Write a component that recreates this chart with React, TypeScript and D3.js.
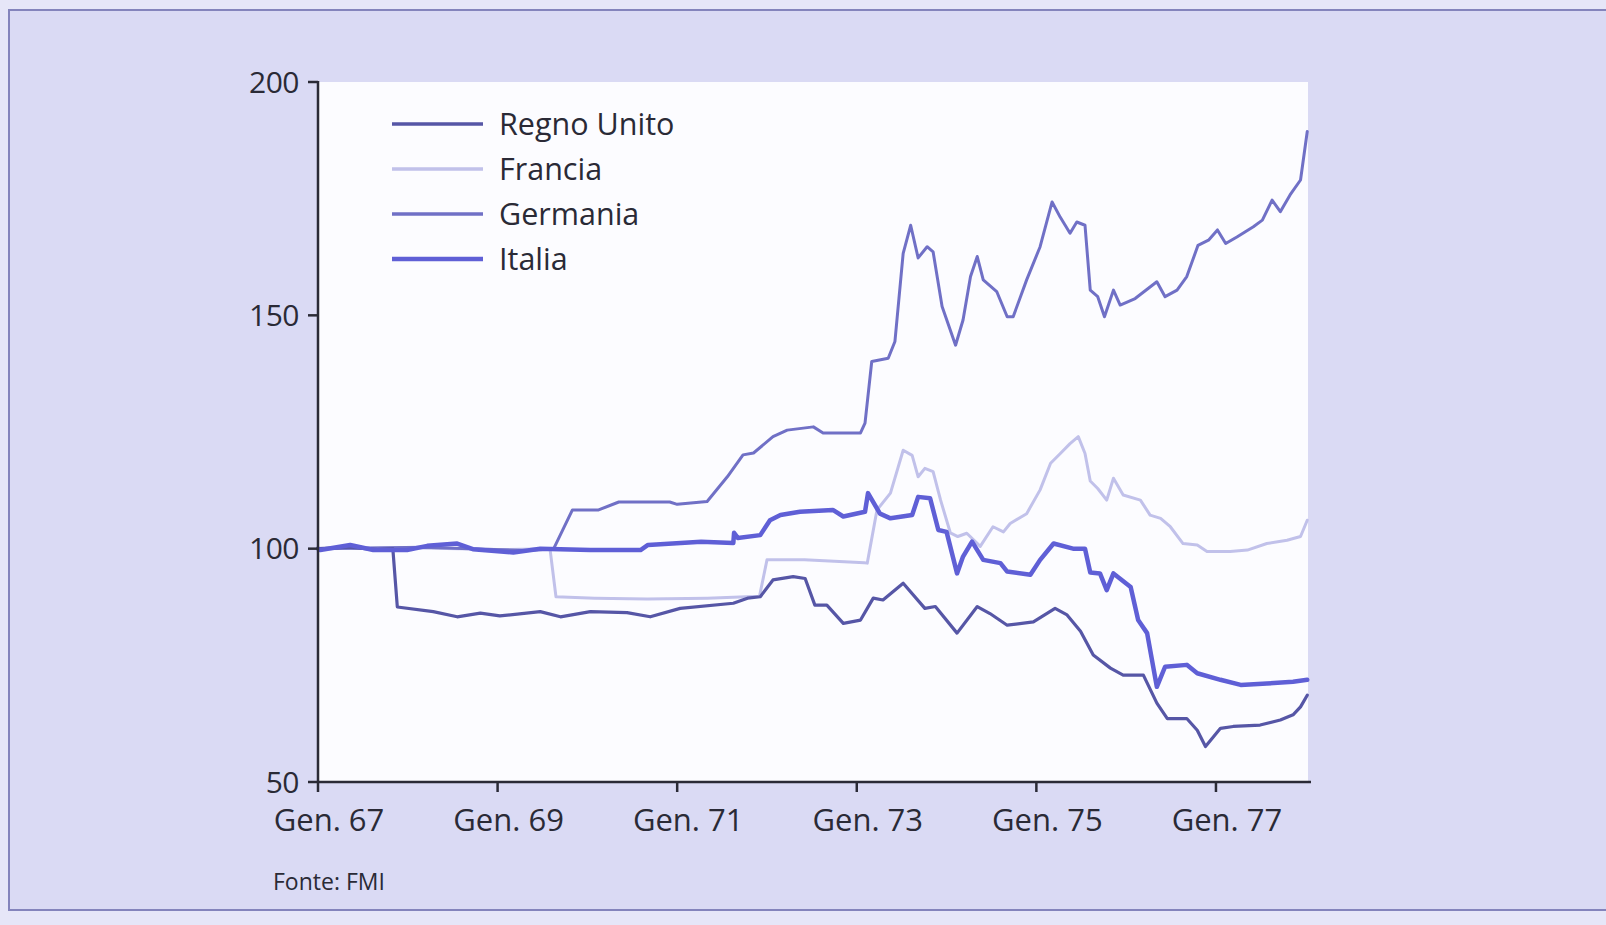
import React from 'react';
import * as d3 from 'd3';

// months since Gen. 1967, index value
const regnoUnito: [number, number][] = [
  [0, 100], [4, 100.3], [8, 99.8], [10, 100], [10.6, 87.5], [15.4, 86.5], [18.6, 85.4],
  [21.7, 86.2], [24.3, 85.6], [29.7, 86.5], [32.4, 85.4], [36.4, 86.5], [41.3, 86.3],
  [44.4, 85.4], [48.4, 87.2], [55.5, 88.3], [57.4, 89.4], [59.1, 89.7], [60.8, 93.3],
  [63.5, 94], [65.1, 93.6], [66.4, 87.9], [68, 87.9], [70.2, 84], [72.5, 84.7],
  [74.2, 89.4], [75.5, 89], [78.2, 92.6], [81.1, 87.2], [82.5, 87.6], [85.4, 81.9],
  [88.1, 87.6], [89.8, 86.1], [92.1, 83.6], [95.6, 84.3], [98.5, 87.2], [100.1, 85.8],
  [101.9, 82.3], [103.6, 77.2], [105.9, 74.4], [107.6, 72.9], [110.3, 72.9], [112.1, 66.9],
  [113.5, 63.6], [116.1, 63.6], [117.5, 61.1], [118.6, 57.6], [120.6, 61.5], [122.3, 61.9],
  [125.9, 62.2], [128.6, 63.3], [130.3, 64.4], [131.3, 66.1], [132.2, 68.6],
];

const francia: [number, number][] = [
  [0, 100], [12, 100.2], [24, 99.8], [31, 100], [31.8, 89.7], [37, 89.4], [44, 89.2],
  [52, 89.4], [59, 89.8], [60, 97.6], [65, 97.6], [73, 97], [73.4, 96.9], [74.7, 108.3],
  [76.5, 111.9], [78.2, 121.1], [79.4, 120], [80.2, 115.4], [81.1, 117.2], [82.2, 116.5],
  [83.2, 110.4], [84.5, 103.4], [85.5, 102.6], [86.7, 103.3], [88.5, 100.5], [90.2, 104.7],
  [91.6, 103.6], [92.5, 105.4], [94.7, 107.5], [96.5, 112.6], [97.9, 118.3], [99.2, 120.4],
  [100.5, 122.5], [101.6, 124], [102.5, 120.4], [103.2, 114.5], [104.2, 112.9], [105.4, 110.4],
  [106.3, 115.1], [107.6, 111.5], [109.9, 110.4], [111.2, 107.2], [112.6, 106.5], [113.9, 104.7],
  [115.6, 101.1], [117.5, 100.8], [118.8, 99.4], [121.9, 99.4], [124.2, 99.7], [126.8, 101.1],
  [129.5, 101.8], [131.3, 102.6], [132.2, 106.1],
];

const germania: [number, number][] = [
  [0, 100], [14, 100.3], [28, 99.6], [31.5, 100], [34, 108.3], [37.5, 108.3], [40.2, 110],
  [47, 110], [48, 109.5], [52, 110.1], [54.7, 115.4], [56.8, 120.1], [58.2, 120.5],
  [60.8, 124], [62.7, 125.4], [66.2, 126.1], [67.5, 124.8], [72.5, 124.8], [73.1, 126.9],
  [74, 140.1], [76.2, 140.8], [77.1, 144.4], [78.2, 163.3], [79.2, 169.3], [80.2, 162.3],
  [81.4, 164.7], [82.2, 163.6], [83.4, 151.9], [85.2, 143.6], [86.2, 149], [87.2, 158.3],
  [88.1, 162.6], [88.9, 157.6], [90.7, 155.1], [92.1, 149.7], [92.9, 149.7], [94.7, 157.6],
  [96.5, 164.7], [98.1, 174.3], [99.2, 171], [100.5, 167.6], [101.4, 170], [102.5, 169.3],
  [103.2, 155.4], [104.2, 154], [105.1, 149.7], [106.3, 155.4], [107.2, 152.2], [109.2, 153.6],
  [112.1, 157.2], [113.2, 154], [114.8, 155.4], [116.1, 158.3], [117.6, 165], [119, 166.1],
  [120.2, 168.3], [121.3, 165.4], [122.8, 166.8], [125, 169], [126.2, 170.4], [127.5, 174.7],
  [128.6, 172.2], [129.9, 175.8], [131.3, 179], [132.2, 189.4],
];

const italia: [number, number][] = [
  [0, 100], [0.3, 99.7], [4.3, 100.8], [7.4, 99.7], [11.9, 99.7], [14.6, 100.6], [18.6, 101.1],
  [20.7, 99.9], [26.1, 99.2], [29.7, 100], [36.4, 99.7], [43.1, 99.7], [44.1, 100.8],
  [51.2, 101.5], [55.5, 101.2], [55.6, 103.4], [56.1, 102.3], [59.1, 102.9], [60.4, 106.1],
  [61.8, 107.2], [64.4, 107.9], [68.8, 108.3], [70.2, 106.9], [73.1, 107.9], [73.5, 111.9],
  [75.1, 107.5], [76.5, 106.5], [79.4, 107.2], [80.2, 111.1], [81.8, 110.8], [82.9, 104],
  [84, 103.6], [85.4, 94.7], [86.2, 98.3], [87.4, 101.5], [88.9, 97.6], [91.2, 96.9],
  [92.1, 95.1], [95.2, 94.4], [96.5, 97.6], [98.3, 101.1], [100.9, 100], [102.5, 100],
  [103.2, 94.9], [104.5, 94.7], [105.4, 91.1], [106.3, 94.7], [108.6, 91.8], [109.6, 84.7],
  [110.8, 81.9], [112.1, 70.4], [113.2, 74.7], [116.1, 75.1], [117.5, 73.3], [120.6, 71.9],
  [123.3, 70.8], [126.8, 71.1], [130.3, 71.5], [132.2, 71.9],
];

const seriesNames = ['Regno Unito', 'Francia', 'Germania', 'Italia'];
const yTicks = [50, 100, 150, 200];
const xTickMonths = [0, 24, 48, 72, 96, 120];
const xTickLabels = ['Gen. 67', 'Gen. 69', 'Gen. 71', 'Gen. 73', 'Gen. 75', 'Gen. 77'];

const FONT = "'Open Sans', 'DejaVu Sans', sans-serif";
const INK = '#2a2a36';

export default function App() {
  const width = 1606;
  const height = 925;

  const x = d3.scaleLinear().domain([0, 132.7]).range([318, 1311]);
  const y = d3.scaleLinear().domain([50, 200]).range([782, 82]);

  const line = d3.line<[number, number]>()
    .x(d => x(d[0]))
    .y(d => y(d[1]));

  // drawing order: light ones underneath
  const series = [
    { name: seriesNames[1], data: francia, color: '#c1c1ea', w: 3 },
    { name: seriesNames[2], data: germania, color: '#7070c6', w: 3 },
    { name: seriesNames[0], data: regnoUnito, color: '#5656a6', w: 3.2 },
    { name: seriesNames[3], data: italia, color: '#5f5fd6', w: 4.5 },
  ];
  const legendColor: Record<string, { color: string; w: number }> = {};
  series.forEach(s => { legendColor[s.name] = { color: s.color, w: s.w }; });

  return (
    <svg width={width} height={height} style={{ position: 'absolute', left: 0, top: 0, display: 'block' }}>
      <rect x={0} y={0} width={width} height={height} fill="#e6e6f8" />
      <rect x={9} y={10} width={width} height={900} fill="#dadaf4" stroke="#8484bc" strokeWidth={2} />

      {/* plot area */}
      <rect x={x(0)} y={y(200)} width={1308 - x(0)} height={y(50) - y(200)} fill="#fcfcff" />

      {series.map(s => (
        <path key={s.name} d={line(s.data) || ''} fill="none" stroke={s.color}
          strokeWidth={s.w} strokeLinejoin="round" strokeLinecap="round" />
      ))}

      {/* y axis */}
      <line x1={x(0)} x2={x(0)} y1={y(200) - 1} y2={y(50)} stroke={INK} strokeWidth={2.5} />
      {yTicks.map(t => (
        <g key={t}>
          <line x1={x(0) - 10} x2={x(0)} y1={y(t)} y2={y(t)} stroke={INK} strokeWidth={2.5} />
          <text x={299} y={y(t)} dy="0.36em" textAnchor="end" fontFamily={FONT}
            fontSize={30} fill={INK} letterSpacing={-0.5}>{t}</text>
        </g>
      ))}

      {/* x axis */}
      <line x1={x(0)} x2={1311} y1={y(50)} y2={y(50)} stroke={INK} strokeWidth={2.5} />
      {xTickMonths.map((m, i) => (
        <g key={m}>
          <line x1={x(m)} x2={x(m)} y1={y(50)} y2={y(50) + 10} stroke={INK} strokeWidth={2.5} />
          <text x={x(m) + 11} y={831} textAnchor="middle" fontFamily={FONT}
            fontSize={31} fill={INK}>{xTickLabels[i]}</text>
        </g>
      ))}

      {/* legend */}
      {seriesNames.map((name, i) => (
        <g key={name} transform={`translate(0, ${124 + i * 45})`}>
          <line x1={392} x2={483} y1={0} y2={0} stroke={legendColor[name].color}
            strokeWidth={Math.max(3.5, legendColor[name].w)} />
          <text x={499} y={0} dy="0.36em" fontFamily={FONT} fontSize={30.5} fill={INK}>{name}</text>
        </g>
      ))}

      <text x={273} y={890} fontFamily={FONT} fontSize={23} fill={INK}>Fonte: FMI</text>
    </svg>
  );
}
